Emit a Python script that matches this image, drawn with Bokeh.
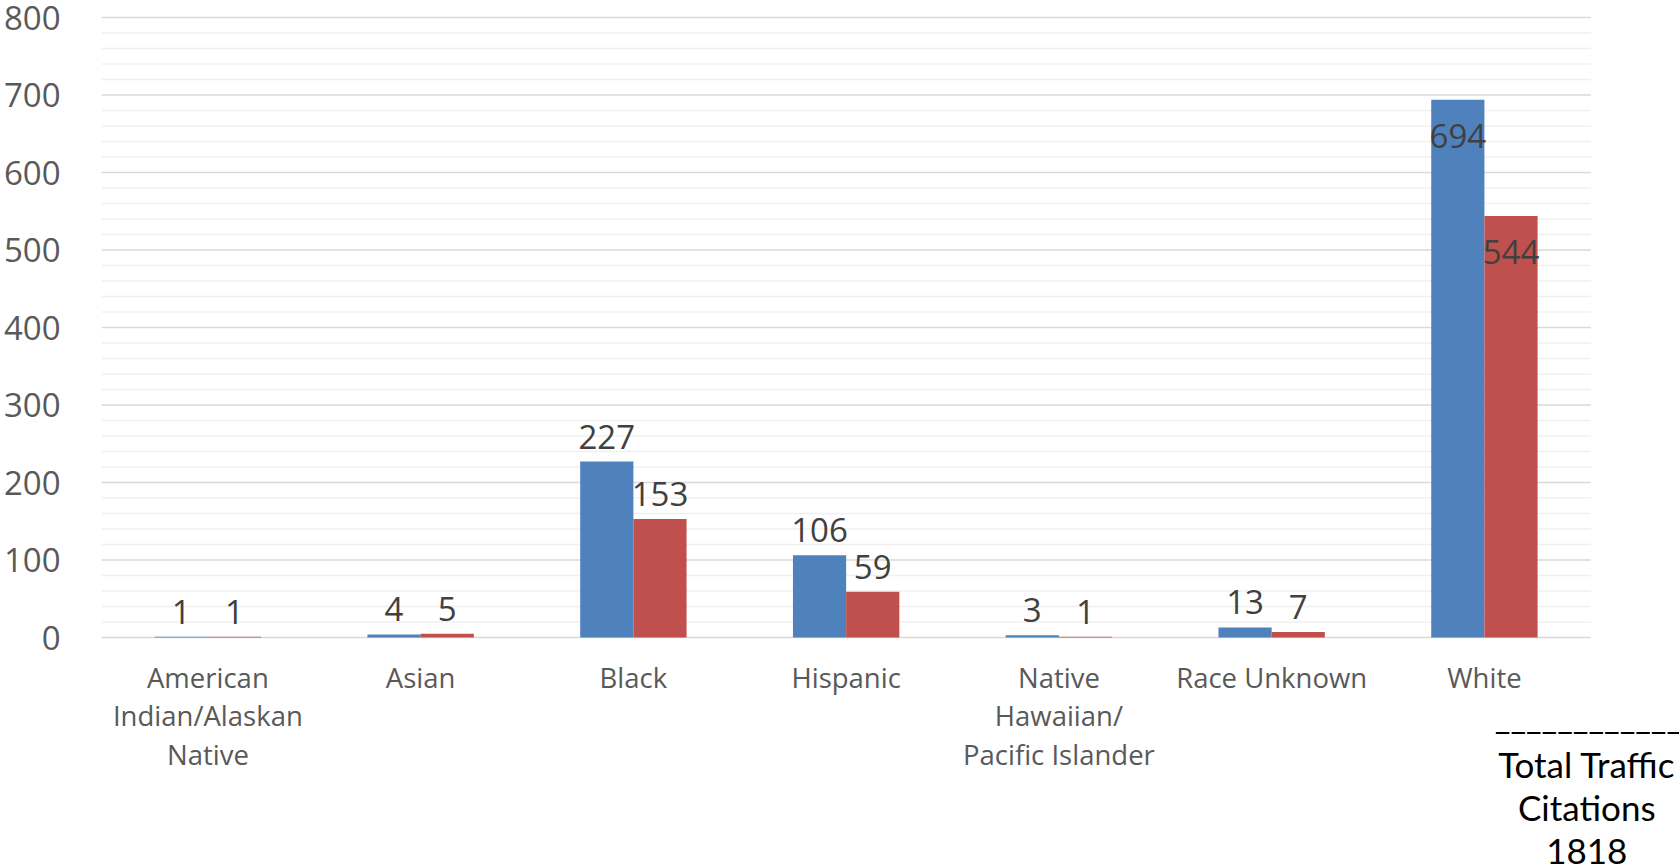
from bokeh.plotting import figure
from bokeh.models import ColumnDataSource, LabelSet, Label, Range1d, SingleIntervalTicker
from bokeh.core.properties import value
from bokeh.embed import file_html
from bokeh.resources import INLINE

# ---------------- data ----------------
categories = ["American Indian/Alaskan Native", "Asian", "Black", "Hispanic",
              "Native Hawaiian/Pacific Islander", "Race Unknown", "White"]
category_lines = [["American", "Indian/Alaskan", "Native"], ["Asian"], ["Black"], ["Hispanic"],
                  ["Native", "Hawaiian/", "Pacific Islander"], ["Race Unknown"], ["White"]]
series_blue = [1, 4, 227, 106, 3, 13, 694]
series_red = [1, 5, 153, 59, 1, 7, 544]
y_min, y_max, y_step, y_minor = 0, 800, 100, 20
note_rule = "____________"
note_lines = ["Total Traffic", "Citations", "1818"]

# ---------------- layout / style ----------------
W, H = 1679, 865
LEFT = 96            # px of the y-axis panel
ZERO_PX = 637        # canvas y of value 0
TOP_PX = 17          # canvas y of value y_max
CAT_PX = 213.43      # px per category
FONT = "Open Sans"
NOTE_FONT = "Lato"
BLUE, RED = "#4f81bd", "#c0504d"
BAR_W = 0.25

ppu = (ZERO_PX - TOP_PX) / (y_max - y_min)
y_top = y_max + TOP_PX / ppu
y_bot = y_min - (H - ZERO_PX) / ppu
n = len(categories)
x_end = (W - LEFT) / CAT_PX

p = figure(x_range=Range1d(0, x_end), y_range=Range1d(y_bot, y_top),
           width=W, height=H, output_backend="svg", toolbar_location=None,
           min_border_left=LEFT, min_border_right=0, min_border_top=0, min_border_bottom=0)
p.outline_line_color = None
p.grid.visible = False
p.xaxis.visible = False

p.yaxis.ticker = SingleIntervalTicker(interval=y_step, num_minor_ticks=0)
p.yaxis.bounds = (y_min, y_max)
p.yaxis.axis_line_color = None
p.yaxis.major_tick_line_color = None
p.yaxis.minor_tick_line_color = None
p.yaxis.major_label_text_font = FONT
p.yaxis.major_label_text_font_size = "33px"
p.yaxis.major_label_text_color = "#595959"
p.yaxis.major_label_standoff = 35

# gridlines across the category area only
minor_vals = [v for v in range(y_min, y_max + 1, y_minor) if v % y_step]
major_vals = list(range(y_min, y_max + 1, y_step))
p.segment(x0=[0] * len(minor_vals), x1=[n] * len(minor_vals), y0=minor_vals, y1=minor_vals,
          line_color="#f0f0f0", line_width=1.3)
p.segment(x0=[0] * len(major_vals), x1=[n] * len(major_vals), y0=major_vals, y1=major_vals,
          line_color="#d9d9d9", line_width=1.3)

centers = [i + 0.5 for i in range(n)]
src = ColumnDataSource(dict(xb=[c - BAR_W / 2 for c in centers], xr=[c + BAR_W / 2 for c in centers],
                            blue=series_blue, red=series_red))
p.vbar(x="xb", top="blue", width=BAR_W, fill_color=BLUE, line_color=None, source=src)
p.vbar(x="xr", top="red", width=BAR_W, fill_color=RED, line_color=None, source=src)

# data labels: above the bar, or inside the top for the tallest bars
def offsets(vals):
    return [-48 if v > 500 else 13 for v in vals]

for xs, vals in (("xb", series_blue), ("xr", series_red)):
    lsrc = ColumnDataSource(dict(x=src.data[xs], y=vals, txt=[str(v) for v in vals], off=offsets(vals)))
    p.add_layout(LabelSet(x="x", y="y", text="txt", y_offset="off", source=lsrc,
                          text_align="center", text_baseline="alphabetic",
                          text_font=value(FONT), text_font_size="33px", text_color="#404040"))

# category labels (wrapped)
cx, ct, co = [], [], []
for c, lines in zip(centers, category_lines):
    for i, t in enumerate(lines):
        cx.append(c)
        ct.append(t)
        co.append(-50 - 38.5 * i)
csrc = ColumnDataSource(dict(x=cx, txt=ct, off=co, y=[0] * len(cx)))
p.add_layout(LabelSet(x="x", y="y", text="txt", y_offset="off", source=csrc,
                      text_align="center", text_baseline="alphabetic",
                      text_font=value(FONT), text_font_size="27.5px", text_color="#595959"))

# side note
p.add_layout(Label(x=n, y=0, x_offset=-96, y_offset=-78, text=note_rule,
                   text_align="left", text_baseline="alphabetic",
                   text_font=NOTE_FONT, text_font_size="34px", text_color="black"))
nsrc = ColumnDataSource(dict(x=[n] * len(note_lines), y=[0] * len(note_lines), txt=note_lines,
                             off=[-140 - 43 * i for i in range(len(note_lines))]))
p.add_layout(LabelSet(x="x", y="y", text="txt", y_offset="off", x_offset=-4, source=nsrc,
                      text_align="center", text_baseline="alphabetic",
                      text_font=value(NOTE_FONT), text_font_size="35px", text_color="black"))

open("out.html", "w").write(file_html(p, INLINE))
